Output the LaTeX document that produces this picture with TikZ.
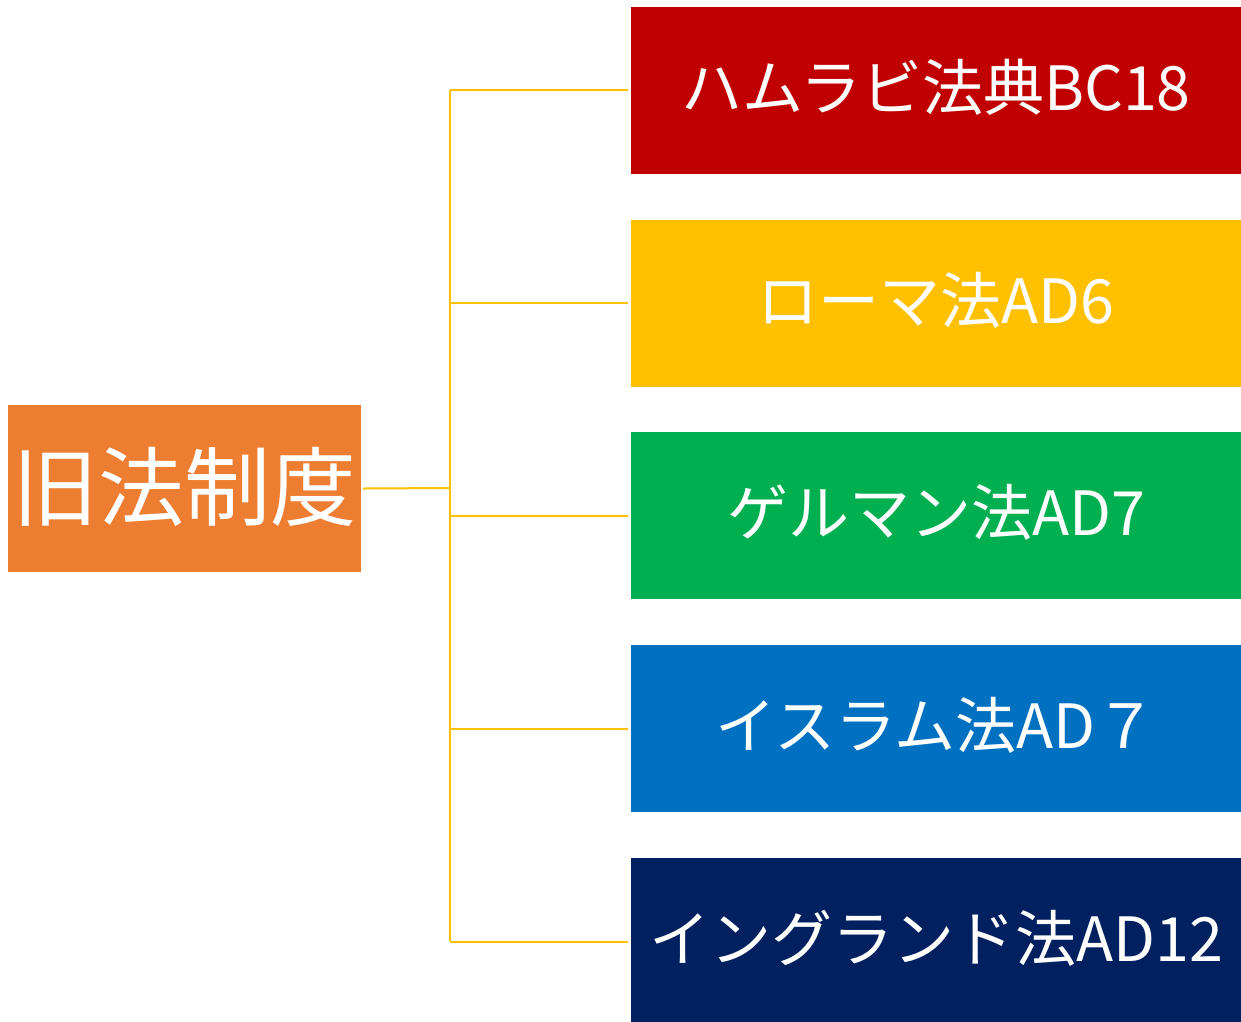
\documentclass[tikz,border=0pt]{standalone}
\usepackage{fontspec}
\newfontfamily\jp{Noto Sans CJK JP}
\definecolor{cRed}{HTML}{C00000}
\definecolor{cYel}{HTML}{FFC000}
\definecolor{cGrn}{HTML}{00B050}
\definecolor{cBlu}{HTML}{0070C0}
\definecolor{cNav}{HTML}{002060}
\definecolor{cOrg}{HTML}{ED7D31}
\newcommand{\up}[1]{\raisebox{11pt}{#1}}
\tikzset{
  lawbox/.style={fill=#1, draw=none, minimum width=610pt, minimum height=167pt, inner sep=0pt, text=white, font=\jp\fontsize{61}{63}\selectfont},
  conn/.style={draw=cYel, line width=2pt},
}
\begin{document}
\begin{tikzpicture}[x=1pt,y=-1pt]
\useasboundingbox (0,0) rectangle (1241,1021);
\clip (0,0) rectangle (1241,1021);
\node[fill=cOrg, minimum width=353pt, minimum height=167pt, inner sep=0pt, text=white, font=\jp\fontsize{86}{88}\selectfont] (root) at (184.5,488.5) {\up{旧法制度}};
\node[lawbox=cRed] (b1) at (936,90) {\up{ハムラビ法典BC18}};
\node[lawbox=cYel] (b2) at (936,303) {\up{ローマ法AD6}};
\node[lawbox=cGrn] (b3) at (936,515.5) {\up{ゲルマン法AD7}};
\node[lawbox=cBlu] (b4) at (936,728.5) {\up{イスラム法AD７}};
\node[lawbox=cNav] (b5) at (936,941.5) {\up{イングランド法AD12}};
\coordinate (j) at (450,488);
\draw[conn] ([xshift=2pt]root.east) -- (j);
\draw[conn] (450,90) -- (450,941);
\foreach \b in {b1,b2,b3,b4,b5}{
  \draw[conn] (450,0 |- \b.west) -- ([xshift=-3pt]\b.west);
}
\end{tikzpicture}
\end{document}
